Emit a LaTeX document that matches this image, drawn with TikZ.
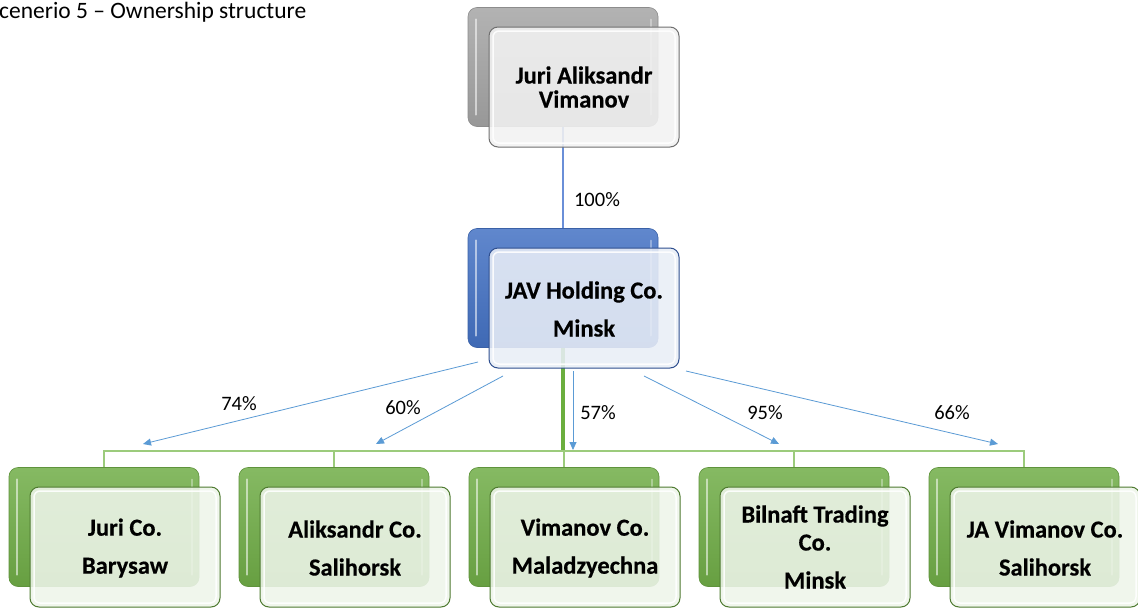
\documentclass[tikz,border=0pt]{standalone}
\usepackage{fontspec}
\setmainfont{Carlito}[BoldFeatures={FakeBold=0.4}]
\usetikzlibrary{arrows.meta,calc}

\definecolor{grayA}{HTML}{A5A5A5}
\definecolor{grayEdge}{HTML}{6F6F6F}
\definecolor{grayFill}{HTML}{F2F2F2}
\definecolor{blueA}{HTML}{4472C4}
\definecolor{blueEdge}{HTML}{2F4F8F}
\definecolor{blueFill}{HTML}{E9EEF7}
\definecolor{greenA}{HTML}{70AD47}
\definecolor{greenEdge}{HTML}{4E7A30}
\definecolor{greenFill}{HTML}{EEF5EA}
\definecolor{trunkGreen}{HTML}{6BAE3E}
\definecolor{busGreen}{HTML}{9CCB7C}
\definecolor{linkBlue}{HTML}{5B9BD5}
\definecolor{topBlue}{HTML}{6A8FD8}

\tikzset{
  backbox/.style={rounded corners=9pt, minimum width=190pt, minimum height=119pt,
    inner sep=0pt, draw=#1!85!black, line width=0.6pt,
    top color=#1!85!white, bottom color=#1!92!black,
    path picture={
      \draw[white, opacity=0.55, line width=2.5pt, line cap=round]
        ([xshift=8pt,yshift=-12pt]path picture bounding box.north west) --
        ([xshift=8pt,yshift=12pt]path picture bounding box.south west);
      \draw[white, opacity=0.35, line width=2pt, line cap=round]
        ([xshift=-7pt,yshift=-12pt]path picture bounding box.north east) --
        ([xshift=-7pt,yshift=12pt]path picture bounding box.south east);
    }},
  frontbox/.style 2 args={rounded corners=9pt, minimum width=190pt, minimum height=120pt,
    inner sep=0pt, draw=#1, line width=1pt, fill=#2, fill opacity=0.88,
    path picture={
      \draw[white, opacity=0.9, line width=1.5pt, rounded corners=6pt]
        ([shift={(4pt,-4pt)}]path picture bounding box.north west) rectangle
        ([shift={(-4pt,4pt)}]path picture bounding box.south east);
    }},
  boxtext/.style={font=\fontsize{24.5}{24}\selectfont\bfseries, align=center,
    inner sep=0pt, text=black},
  pct/.style={font=\fontsize{20.5}{24}\selectfont, inner sep=0pt, text=black},
  own/.style={draw=linkBlue, line width=0.8pt, -{Triangle[length=8pt,width=7pt]}},
  trunk/.style={draw=trunkGreen, line width=3.2pt},
  bus/.style={draw=busGreen, line width=1.6pt},
  topline/.style={draw=topBlue, line width=1.8pt}
}

\begin{document}
\begin{tikzpicture}[x=1pt,y=-1pt]
\fill[white] (0,0) rectangle (1138,608);
\useasboundingbox (0,0) rectangle (1138,608);

% heading
\node[anchor=base west, font=\fontsize{23.5}{28}\selectfont, inner sep=0pt] (title)
  at (-1,18) {cenerio 5 – Ownership structure};

% rear shapes of every entity
\node[backbox=grayA]  (pB) at (563,67) {};
\node[backbox=blueA]  (jB) at (563,288) {};
\node[backbox=greenA] (c1B) at (104,527) {};
\node[backbox=greenA] (c2B) at (334,527) {};
\node[backbox=greenA] (c3B) at (564,527) {};
\node[backbox=greenA] (c4B) at (794,527) {};
\node[backbox=greenA] (c5B) at (1024,527) {};

% hierarchy lines
\coordinate (bus) at (563,451);
\draw[topline] (pB.south) -- (jB.north);
\draw[trunk] (jB.south) -- (bus);
\foreach \c in {c1B,c2B,c3B,c4B,c5B}
  \draw[bus] (bus) -| (\c.north);

% front shapes
\node[frontbox={grayEdge}{grayFill}]   (pF) at (584,87) {};
\node[frontbox={blueEdge}{blueFill}]   (jF) at (584,308) {};
\node[frontbox={greenEdge}{greenFill}] (c1F) at (125,547) {};
\node[frontbox={greenEdge}{greenFill}] (c2F) at (355,547) {};
\node[frontbox={greenEdge}{greenFill}] (c3F) at (585,547) {};
\node[frontbox={greenEdge}{greenFill}] (c4F) at (815,547) {};
\node[frontbox={greenEdge}{greenFill}] (c5F) at (1045,547) {};

% entity names
\node[boxtext] (pT) at (pF.center) {Juri Aliksandr\\Vimanov};
\node[boxtext] (jT) at ([yshift=-1pt]jF.center) {JAV Holding Co.\\[14pt]Minsk};
\node[boxtext] (c1T) at ([yshift=-1pt]c1F.center) {Juri Co.\\[14pt]Barysaw};
\node[boxtext] (c2T) at ([yshift=-1pt]c2F.center) {Aliksandr Co.\\[14pt]Salihorsk};
\node[boxtext] (c3T) at ([yshift=-1pt]c3F.center) {Vimanov Co.\\[14pt]Maladzyechna};
\node[boxtext] (c4T) at (c4F.center) {Bilnaft Trading\\[4pt]Co.\\[14pt]Minsk};
\node[boxtext] (c5T) at ([yshift=-1pt]c5F.center) {JA Vimanov Co.\\[14pt]Salihorsk};

% ownership arrows
\coordinate (o1s) at (478,362); \coordinate (o1e) at (143,444);
\coordinate (o2s) at (503,376); \coordinate (o2e) at (376,444);
\coordinate (o3s) at (573,371); \coordinate (o3e) at (573,450);
\coordinate (o4s) at (644,376); \coordinate (o4e) at (779,444);
\coordinate (o5s) at (686,371); \coordinate (o5e) at (998,444);
\draw[own] (o1s) -- (o1e);
\draw[own] (o2s) -- (o2e);
\draw[own] (o3s) -- (o3e);
\draw[own] (o4s) -- (o4e);
\draw[own] (o5s) -- (o5e);

% shares
\node[pct] (l0) at (597,200) {100\%};
\node[pct] (l1) at (239,404) {74\%};
\node[pct] (l2) at (403,408) {60\%};
\node[pct] (l3) at (598,413) {57\%};
\node[pct] (l4) at (765,413) {95\%};
\node[pct] (l5) at (952,413) {66\%};
\end{tikzpicture}
\end{document}
